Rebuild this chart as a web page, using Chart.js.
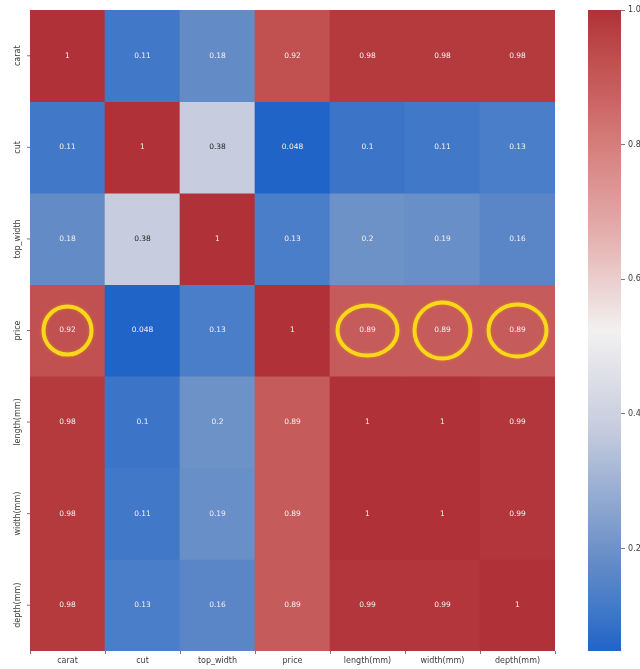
<!DOCTYPE html>
<html>
<head>
<meta charset="utf-8">
<title>Correlation heatmap</title>
<script src="https://cdn.jsdelivr.net/npm/chart.js@4.4.1/dist/chart.umd.min.js"></script>
<style>
  html, body { margin: 0; padding: 0; background: #ffffff; overflow: hidden; }
  #wrap { position: relative; width: 640px; height: 669px; }
  #heat { position: absolute; left: 0; top: 0; }
  #bar { position: absolute; left: 560px; top: 0; }
</style>
</head>
<body>
<div id="wrap">
  <canvas id="heat" width="640" height="669"></canvas>
  <canvas id="bar" width="100" height="669"></canvas>
</div>
<script>
// Feature names (rows top to bottom, columns left to right)
const features = ['carat', 'cut', 'top_width', 'price', 'length(mm)', 'width(mm)', 'depth(mm)'];

// Correlation matrix, one array per row
const rowCarat    = [1,    0.11,  0.18, 0.92,  0.98, 0.98, 0.98];
const rowCut      = [0.11, 1,     0.38, 0.048, 0.1,  0.11, 0.13];
const rowTopWidth = [0.18, 0.38,  1,    0.13,  0.2,  0.19, 0.16];
const rowPrice    = [0.92, 0.048, 0.13, 1,     0.89, 0.89, 0.89];
const rowLength   = [0.98, 0.1,   0.2,  0.89,  1,    1,    0.99];
const rowWidth    = [0.98, 0.11,  0.19, 0.89,  1,    1,    0.99];
const rowDepth    = [0.98, 0.13,  0.16, 0.89,  0.99, 0.99, 1];
const matrix = [rowCarat, rowCut, rowTopWidth, rowPrice, rowLength, rowWidth, rowDepth];

// Colour bar range and ticks
const colorMin = 0.048;
const colorMax = 1.0;
const colorTicks = [0.2, 0.4, 0.6, 0.8, 1.0];

// Highlighted cells: [row name, column name]
const highlighted = [
  ['price', 'carat'],
  ['price', 'length(mm)'],
  ['price', 'width(mm)'],
  ['price', 'depth(mm)']
];
// ellipse radii (px) for each highlight ring
const ringRadii = [[24, 24], [30, 25], [28, 28], [29, 26]];

// Diverging blue-white-red palette
const stops = [
  [0.00, [33, 100, 200]],
  [0.07, [68, 122, 200]],
  [0.14, [100, 140, 198]],
  [0.35, [200, 205, 222]],
  [0.50, [242, 240, 240]],
  [0.65, [228, 175, 174]],
  [0.80, [212, 122, 120]],
  [0.88, [199, 92, 92]],
  [0.92, [192, 80, 80]],
  [1.00, [176, 50, 56]]
];
function cmapRGB(v) {
  let t = (v - colorMin) / (colorMax - colorMin);
  t = Math.max(0, Math.min(1, t));
  for (let i = 1; i < stops.length; i++) {
    if (t <= stops[i][0]) {
      const [t0, c0] = stops[i - 1];
      const [t1, c1] = stops[i];
      const f = (t - t0) / (t1 - t0);
      return c0.map((c, k) => Math.round(c + (c1[k] - c) * f));
    }
  }
  return stops[stops.length - 1][1];
}
function cmap(v) {
  const c = cmapRGB(v);
  return `rgb(${c[0]},${c[1]},${c[2]})`;
}
function textColor(v) {
  const c = cmapRGB(v).map(x => {
    x /= 255;
    return x <= 0.03928 ? x / 12.92 : Math.pow((x + 0.055) / 1.055, 2.4);
  });
  const lum = 0.2126 * c[0] + 0.7152 * c[1] + 0.0722 * c[2];
  return lum > 0.408 ? '#262626' : '#f6eeee';
}

const FONT = '"DejaVu Sans", sans-serif';
const labelColor = '#3a3a3a';

// Each row is one dataset of floating bars spanning [row, row + 1]
const datasets = matrix.map((row, r) => ({
  label: features[r],
  data: row.map(() => [r, r + 1]),
  values: row,
  backgroundColor: row.map(cmap),
  borderWidth: 0
}));

// Writes the value into every cell, row labels, and the highlight rings
const cellPlugin = {
  id: 'cellLabels',
  afterDatasetsDraw(chart) {
    const ctx = chart.ctx;
    ctx.save();
    ctx.font = `7.5px ${FONT}`;
    ctx.textAlign = 'center';
    ctx.textBaseline = 'middle';
    chart.data.datasets.forEach((ds, di) => {
      const meta = chart.getDatasetMeta(di);
      meta.data.forEach((bar, i) => {
        const v = ds.values[i];
        const yc = (bar.y + bar.base) / 2;
        ctx.fillStyle = textColor(v);
        ctx.fillText(String(v), bar.x, yc);
      });
    });
    ctx.restore();
  },
  afterDraw(chart) {
    const ctx = chart.ctx;
    const ys = chart.scales.y;
    const area = chart.chartArea;
    ctx.save();
    // row labels, rotated
    ctx.font = `8px ${FONT}`;
    ctx.fillStyle = labelColor;
    ctx.strokeStyle = '#555';
    ctx.lineWidth = 0.8;
    ctx.textAlign = 'center';
    ctx.textBaseline = 'middle';
    features.forEach((name, r) => {
      const y = ys.getPixelForValue(r + 0.5);
      ctx.beginPath();
      ctx.moveTo(area.left - 3, y);
      ctx.lineTo(area.left, y);
      ctx.stroke();
      ctx.save();
      ctx.translate(area.left - 12, y);
      ctx.rotate(-Math.PI / 2);
      ctx.fillText(name, 0, 0);
      ctx.restore();
    });
    // highlight rings
    const xs = chart.scales.x;
    ctx.strokeStyle = '#f8d81a';
    ctx.lineWidth = 4;
    ctx.shadowColor = 'rgba(230,150,20,0.7)';
    ctx.shadowBlur = 3;
    highlighted.forEach(([rowName, colName], k) => {
      const cx = xs.getPixelForValue(features.indexOf(colName));
      const cy = ys.getPixelForValue(features.indexOf(rowName) + 0.5);
      const [rx, ry] = ringRadii[k];
      ctx.beginPath();
      ctx.ellipse(cx, cy, rx, ry, 0, 0, Math.PI * 2);
      ctx.stroke();
    });
    ctx.restore();
  }
};

new Chart(document.getElementById('heat'), {
  type: 'bar',
  data: { labels: features, datasets },
  options: {
    responsive: false,
    animation: false,
    events: [],
    layout: { padding: { left: 30, top: 10, right: 85, bottom: 4 } },
    datasets: {
      bar: { grouped: false, barPercentage: 1, categoryPercentage: 1 }
    },
    plugins: { legend: { display: false }, tooltip: { enabled: false } },
    scales: {
      x: {
        grid: { display: true, drawOnChartArea: false, tickLength: 3, color: '#555', tickWidth: 0.8 },
        border: { display: false },
        ticks: { font: { family: FONT, size: 8 }, color: labelColor, padding: 2, maxRotation: 0, autoSkip: false },
        afterFit(scale) { scale.height = 14; }
      },
      y: {
        display: false,
        type: 'linear',
        min: 0,
        max: features.length,
        reverse: true
      }
    }
  },
  plugins: [cellPlugin]
});

// Colour bar: a single floating bar painted with the palette gradient
new Chart(document.getElementById('bar'), {
  type: 'bar',
  data: {
    labels: [''],
    datasets: [{
      data: [[colorMin, colorMax]],
      borderWidth: 0,
      backgroundColor(ctx) {
        const chart = ctx.chart;
        const area = chart.chartArea;
        if (!area) return cmap(colorMax);
        const ys = chart.scales.y;
        const y0 = ys.getPixelForValue(colorMin);
        const y1 = ys.getPixelForValue(colorMax);
        const g = chart.ctx.createLinearGradient(0, y0, 0, y1);
        for (let i = 0; i <= 60; i++) {
          const v = colorMin + (colorMax - colorMin) * i / 60;
          g.addColorStop(i / 60, cmap(v));
        }
        return g;
      }
    }]
  },
  options: {
    responsive: false,
    animation: false,
    events: [],
    layout: { padding: { left: 28, top: 10, right: 0, bottom: 18 } },
    datasets: { bar: { barPercentage: 1, categoryPercentage: 1 } },
    plugins: { legend: { display: false }, tooltip: { enabled: false } },
    scales: {
      x: { display: false },
      y: {
        position: 'right',
        min: colorMin,
        max: colorMax,
        afterBuildTicks(scale) { scale.ticks = colorTicks.map(v => ({ value: v })); },
        grid: { display: true, drawOnChartArea: false, tickLength: 4, color: '#555', tickWidth: 0.8 },
        border: { display: false },
        ticks: {
          font: { family: FONT, size: 8 },
          color: labelColor,
          padding: 3,
          callback: v => Number(v).toFixed(1)
        },
        afterFit(scale) { scale.width = 39; }
      }
    }
  }
});
</script>
</body>
</html>
